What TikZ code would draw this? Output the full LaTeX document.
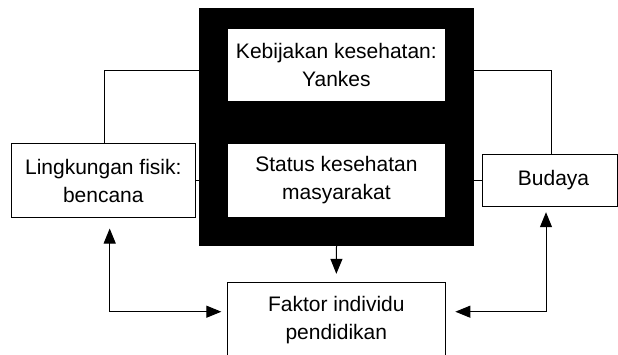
\documentclass[tikz,border=0pt]{standalone}
\usepackage{fontspec}
\setmainfont{Liberation Sans}
\usetikzlibrary{arrows.meta}
\tikzset{
  box/.style={draw=black, line width=1pt, fill=white, align=center, inner sep=0pt,
    font=\fontsize{21}{28}\selectfont},
  inbox/.style={fill=white, align=center, inner sep=0pt,
    font=\fontsize{21}{28}\selectfont},
  grpbox/.style={fill=black, inner sep=0pt},
  conn/.style={line width=1pt, draw=black},
  arr/.style={conn, -{Triangle[length=15pt,width=12pt]}},
  darr/.style={conn, {Triangle[length=15pt,width=12pt]}-{Triangle[length=15pt,width=12pt]}},
}
\begin{document}
\begin{tikzpicture}[x=1pt,y=-1pt]
\useasboundingbox (0,0) rectangle (618,354);
\clip (0,0) rectangle (618,354);
\fill[white] (0,0) rectangle (618,354);
% outer nodes
\node[box, minimum width=184pt, minimum height=74.4pt] (ling) at (103.3,180.5) {Lingkungan fisik:\\bencana};
\node[box, minimum width=134.5pt, minimum height=52pt] (bud) at (550,180) {\hspace*{7pt}Budaya};
\node[box, minimum width=218.3pt, minimum height=77pt] (fak) at (336.3,320.5) {Faktor individu\\pendidikan};
% short links that run under the black group
\draw[conn] (ling.east) -- (336,180.5) coordinate (lmid);
\draw[conn] (bud.west) -- (336,180) coordinate (rmid);
% black group
\node[grpbox, minimum width=275pt, minimum height=238pt] (grp) at (336.5,127) {};
\node[inbox, minimum width=216.7pt, minimum height=72.3pt] (keb) at (336.4,64.9) {Kebijakan kesehatan:\\Yankes};
\node[inbox, minimum width=216.7pt, minimum height=72.7pt] (stat) at (336.4,180.3) {Status kesehatan\\masyarakat};
% connectors
\draw[conn] ([xshift=1.4pt]ling.north) |- (grp.west |- 0,70.7);
\draw[conn] ([xshift=1pt]bud.north) |- (grp.east |- 0,70.7);
\draw[arr, shorten >=7.7pt] (grp.south) -- (fak.north);
\draw[darr, shorten <=10.3pt, shorten >=5.3pt] ([xshift=6.4pt]ling.south) |- (fak.west |- 0,311.7);
\draw[darr, shorten <=5.7pt, shorten >=9.4pt] ([xshift=-4pt]bud.south) |- (fak.east |- 0,311.7);
\end{tikzpicture}
\end{document}
